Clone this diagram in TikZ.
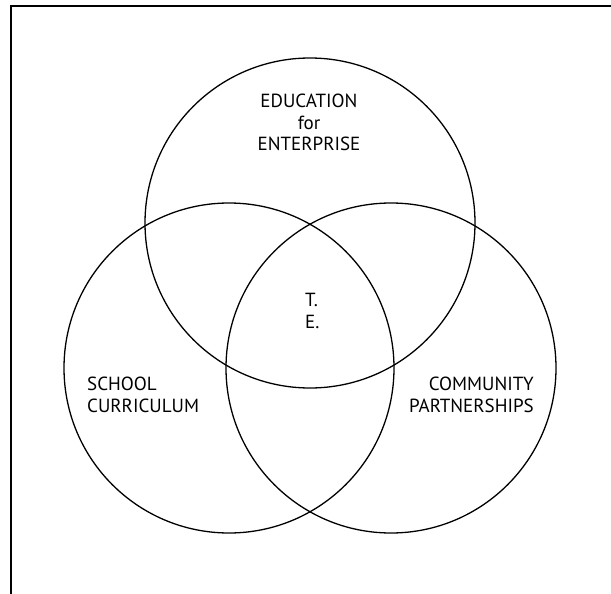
\documentclass[tikz,border=0pt]{standalone}
\usepackage{fontspec}
\setmainfont{PT Sans}
\begin{document}
\begin{tikzpicture}[x=1pt, y=-1pt, ring/.style={circle, draw, line width=1.3pt, minimum size=330pt, inner sep=0pt}, txt/.style={inner sep=0pt, font=\fontsize{19}{21.5}\selectfont}]
        \useasboundingbox (0, 0) rectangle (611, 594);

        \coordinate (fb) at (11, 594);
        \coordinate (fc) at (11, 6.5);
        \coordinate (fr) at (611, 6.5);
        \draw[line width=2pt] (fb) -- (fc) -- (fr);

        \node[ring] (edu) at (310, 223) {};
        \node[ring] (sch) at (229, 368) {};
        \node[ring] (com) at (391, 368) {};

        \node[txt, align=center, anchor=north] (edul) at (309, 94) {EDUCATION\\for\\ENTERPRISE};
        \node[txt, align=left, anchor=north west] (schl) at (87, 377) {SCHOOL\\CURRICULUM};
        \node[txt, align=right, anchor=north east] (coml) at (534, 377) {COMMUNITY\\PARTNERSHIPS};
        \node[txt, align=left, anchor=north west] (te) at (305, 293) {T.\\E.};
    \end{tikzpicture}
\end{document}
